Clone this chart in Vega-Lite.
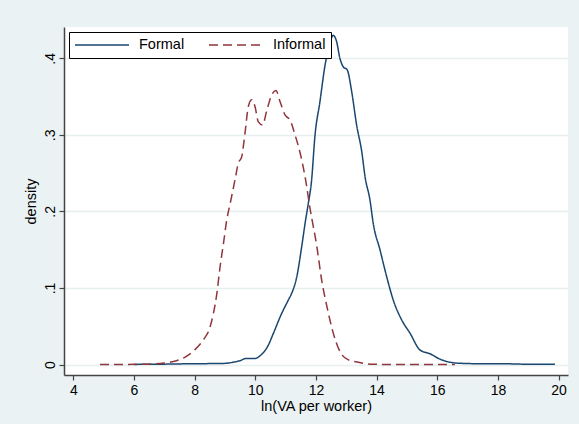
{
  "$schema": "https://vega.github.io/schema/vega-lite/v6.json",
  "autosize": {"type": "none"},
  "padding": {"left": 64, "top": 27, "right": 11, "bottom": 49},
  "width": 504,
  "height": 348,
  "background": "#eaf2f3",
  "config": {
    "font": "Liberation Sans",
    "view": {"fill": "white", "stroke": null},
    "axis": {
      "domainColor": "#444444",
      "domainWidth": 1.5,
      "tickColor": "#444444",
      "tickWidth": 1.2,
      "tickSize": 5,
      "labelColor": "#000",
      "labelFont": "Liberation Sans",
      "labelFontSize": 14,
      "titleFont": "Liberation Sans",
      "titleFontSize": 14.5,
      "titleFontWeight": "normal",
      "titleColor": "#000"
    },
    "legend": {
      "orient": "top-left",
      "offset": 5,
      "direction": "horizontal",
      "strokeColor": "black",
      "fillColor": "white",
      "padding": 5,
      "symbolType": "stroke",
      "symbolSize": 2916,
      "symbolStrokeWidth": 1.5,
      "clipHeight": 16,
      "labelFont": "Liberation Sans",
      "labelFontSize": 14.5,
      "labelColor": "#000",
      "labelOffset": 9,
      "columnPadding": 23
    }
  },
  "data": {
    "values": [
      {"x": 6.0, "d": 0.0, "s": "Formal"},
      {"x": 6.5, "d": 0.0005, "s": "Formal"},
      {"x": 7.0, "d": 0.0005, "s": "Formal"},
      {"x": 7.5, "d": 0.0008, "s": "Formal"},
      {"x": 8.0, "d": 0.001, "s": "Formal"},
      {"x": 8.5, "d": 0.0012, "s": "Formal"},
      {"x": 9.0, "d": 0.0015, "s": "Formal"},
      {"x": 9.27, "d": 0.003, "s": "Formal"},
      {"x": 9.5, "d": 0.005, "s": "Formal"},
      {"x": 9.7, "d": 0.008, "s": "Formal"},
      {"x": 10.0, "d": 0.008, "s": "Formal"},
      {"x": 10.2, "d": 0.013, "s": "Formal"},
      {"x": 10.4, "d": 0.023, "s": "Formal"},
      {"x": 10.6, "d": 0.041, "s": "Formal"},
      {"x": 10.85, "d": 0.065, "s": "Formal"},
      {"x": 11.1, "d": 0.085, "s": "Formal"},
      {"x": 11.2, "d": 0.093, "s": "Formal"},
      {"x": 11.37, "d": 0.115, "s": "Formal"},
      {"x": 11.53, "d": 0.154, "s": "Formal"},
      {"x": 11.64, "d": 0.184, "s": "Formal"},
      {"x": 11.75, "d": 0.211, "s": "Formal"},
      {"x": 11.85, "d": 0.238, "s": "Formal"},
      {"x": 11.97, "d": 0.300, "s": "Formal"},
      {"x": 12.13, "d": 0.343, "s": "Formal"},
      {"x": 12.3, "d": 0.391, "s": "Formal"},
      {"x": 12.44, "d": 0.417, "s": "Formal"},
      {"x": 12.57, "d": 0.430, "s": "Formal"},
      {"x": 12.68, "d": 0.422, "s": "Formal"},
      {"x": 12.79, "d": 0.400, "s": "Formal"},
      {"x": 12.9, "d": 0.389, "s": "Formal"},
      {"x": 13.03, "d": 0.385, "s": "Formal"},
      {"x": 13.18, "d": 0.356, "s": "Formal"},
      {"x": 13.34, "d": 0.313, "s": "Formal"},
      {"x": 13.51, "d": 0.278, "s": "Formal"},
      {"x": 13.62, "d": 0.245, "s": "Formal"},
      {"x": 13.78, "d": 0.215, "s": "Formal"},
      {"x": 13.89, "d": 0.184, "s": "Formal"},
      {"x": 14.11, "d": 0.150, "s": "Formal"},
      {"x": 14.33, "d": 0.115, "s": "Formal"},
      {"x": 14.55, "d": 0.084, "s": "Formal"},
      {"x": 14.83, "d": 0.058, "s": "Formal"},
      {"x": 15.1, "d": 0.041, "s": "Formal"},
      {"x": 15.43, "d": 0.019, "s": "Formal"},
      {"x": 15.76, "d": 0.014, "s": "Formal"},
      {"x": 16.09, "d": 0.007, "s": "Formal"},
      {"x": 16.42, "d": 0.003, "s": "Formal"},
      {"x": 16.75, "d": 0.0016, "s": "Formal"},
      {"x": 17.5, "d": 0.001, "s": "Formal"},
      {"x": 18.0, "d": 0.001, "s": "Formal"},
      {"x": 18.5, "d": 0.0008, "s": "Formal"},
      {"x": 19.0, "d": 0.0003, "s": "Formal"},
      {"x": 19.88, "d": 0.0003, "s": "Formal"},
      {"x": 4.88, "d": 0.0, "s": "Informal"},
      {"x": 5.5, "d": 0.0, "s": "Informal"},
      {"x": 6.0, "d": 0.0003, "s": "Informal"},
      {"x": 6.5, "d": 0.0005, "s": "Informal"},
      {"x": 7.0, "d": 0.002, "s": "Informal"},
      {"x": 7.4, "d": 0.005, "s": "Informal"},
      {"x": 7.7, "d": 0.010, "s": "Informal"},
      {"x": 8.0, "d": 0.019, "s": "Informal"},
      {"x": 8.3, "d": 0.033, "s": "Informal"},
      {"x": 8.5, "d": 0.048, "s": "Informal"},
      {"x": 8.62, "d": 0.067, "s": "Informal"},
      {"x": 8.73, "d": 0.092, "s": "Informal"},
      {"x": 8.84, "d": 0.128, "s": "Informal"},
      {"x": 8.95, "d": 0.158, "s": "Informal"},
      {"x": 9.06, "d": 0.189, "s": "Informal"},
      {"x": 9.17, "d": 0.21, "s": "Informal"},
      {"x": 9.33, "d": 0.241, "s": "Informal"},
      {"x": 9.44, "d": 0.263, "s": "Informal"},
      {"x": 9.55, "d": 0.271, "s": "Informal"},
      {"x": 9.66, "d": 0.302, "s": "Informal"},
      {"x": 9.77, "d": 0.337, "s": "Informal"},
      {"x": 9.88, "d": 0.346, "s": "Informal"},
      {"x": 9.99, "d": 0.337, "s": "Informal"},
      {"x": 10.1, "d": 0.317, "s": "Informal"},
      {"x": 10.24, "d": 0.313, "s": "Informal"},
      {"x": 10.38, "d": 0.332, "s": "Informal"},
      {"x": 10.54, "d": 0.352, "s": "Informal"},
      {"x": 10.68, "d": 0.358, "s": "Informal"},
      {"x": 10.82, "d": 0.343, "s": "Informal"},
      {"x": 10.98, "d": 0.326, "s": "Informal"},
      {"x": 11.15, "d": 0.319, "s": "Informal"},
      {"x": 11.31, "d": 0.300, "s": "Informal"},
      {"x": 11.48, "d": 0.276, "s": "Informal"},
      {"x": 11.66, "d": 0.241, "s": "Informal"},
      {"x": 11.8, "d": 0.205, "s": "Informal"},
      {"x": 12.03, "d": 0.154, "s": "Informal"},
      {"x": 12.19, "d": 0.110, "s": "Informal"},
      {"x": 12.36, "d": 0.076, "s": "Informal"},
      {"x": 12.57, "d": 0.041, "s": "Informal"},
      {"x": 12.79, "d": 0.017, "s": "Informal"},
      {"x": 13.07, "d": 0.006, "s": "Informal"},
      {"x": 13.4, "d": 0.003, "s": "Informal"},
      {"x": 13.8, "d": 0.0005, "s": "Informal"},
      {"x": 14.5, "d": 0.0, "s": "Informal"},
      {"x": 15.5, "d": 0.0, "s": "Informal"},
      {"x": 16.58, "d": 0.0, "s": "Informal"}
    ]
  },
  "mark": {"type": "line", "strokeWidth": 1.5, "interpolate": "monotone"},
  "encoding": {
    "x": {
      "field": "x",
      "type": "quantitative",
      "scale": {"domain": [3.693, 20.31], "nice": false, "zero": false},
      "axis": {
        "title": "ln(VA per worker)",
        "values": [4, 6, 8, 10, 12, 14, 16, 18, 20],
        "grid": false,
        "labelPadding": 3,
        "titlePadding": 2
      }
    },
    "y": {
      "field": "d",
      "type": "quantitative",
      "scale": {"domain": [-0.0137, 0.4409], "nice": false, "zero": false},
      "axis": {
        "title": "density",
        "values": [0, 0.1, 0.2, 0.3, 0.4],
        "grid": true,
        "gridColor": "#e6eef0",
        "gridWidth": 1.5,
        "labelAngle": 270,
        "labelAlign": "center",
        "labelBaseline": "bottom",
        "labelPadding": 2,
        "labelExpr": "datum.value == 0 ? '0' : replace(format(datum.value, '.1f'), '0.', '.')",
        "titlePadding": 5
      }
    },
    "color": {
      "field": "s",
      "type": "nominal",
      "scale": {"domain": ["Formal", "Informal"], "range": ["#1a476f", "#90353b"]},
      "legend": {"title": null}
    },
    "strokeDash": {
      "field": "s",
      "type": "nominal",
      "scale": {"domain": ["Formal", "Informal"], "range": [[1, 0], [9, 5]]},
      "legend": {"title": null}
    }
  }
}
